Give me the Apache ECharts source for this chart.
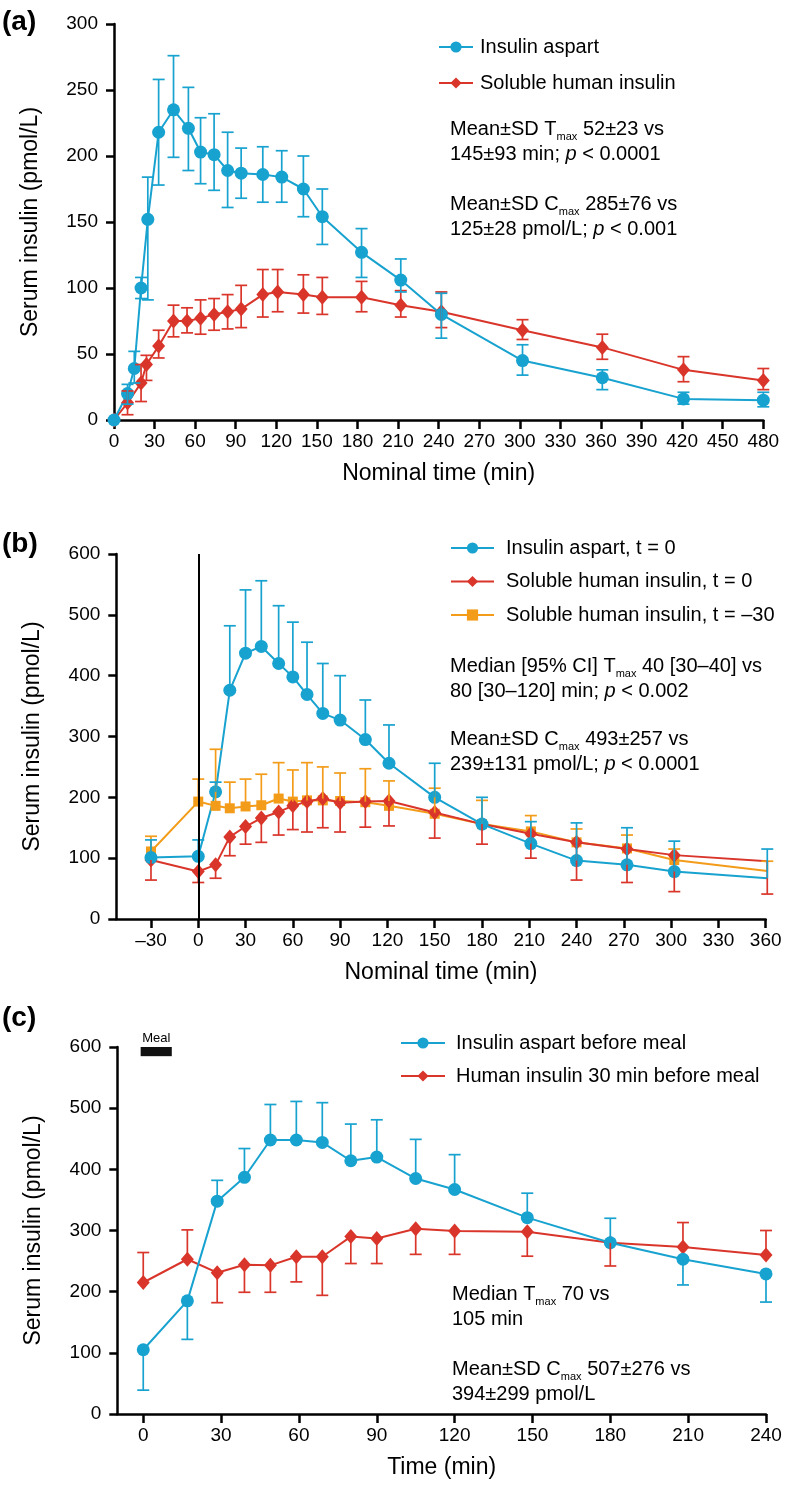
<!DOCTYPE html>
<html>
<head>
<meta charset="utf-8">
<script src="https://cdn.jsdelivr.net/npm/echarts@6/dist/echarts.min.js"></script>
<style>
html,body{margin:0;padding:0;background:#fff;}
#chart{width:786px;height:1487px;}
</style>
</head>
<body>
<div id="chart"></div>
<script>
// ---------- DATA ----------
// Panel (a)
const aTimeAsp = [0,10,15,20,25,33,44,55,64,74,84,94,110,124,140,154,183,212,242,302,361,421,480];
const aAsp     = [0,20,39,100,152,218,235,221,203,201,189,187,186,184,175,154,127,106,80,45,32,16,15];
const aAspLo   = [0,12,28,92,91,178,199,189,179,174,161,168,165,165,154,133,108,97,62,34,23,12,10];
const aAspHi   = [0,27,52,108,184,258,276,252,229,232,218,206,207,204,200,175,145,122,96,57,38,21,21];
const aTimeHum = [0,10,20,24,33,44,54,64,74,84,94,110,121,140,154,183,212,242,302,361,421,480];
const aHum     = [0,13,28,42,56,75,75,77,80,82,84,95,97,95,93,93,87,82,68,55,38,30];
const aHumLo   = [0,4,14,30,47,63,66,65,68,69,70,78,82,81,80,82,78,70,61,46,29,23];
const aHumHi   = [0,22,42,49,68,87,85,91,92,95,102,114,114,110,108,105,98,97,76,65,48,39];
const aXTicks  = [0,30,60,90,120,150,180,210,240,270,300,330,360,390,420,450,480];

// Panel (b)
const bTime    = [-30,0,11,20,30,40,51,60,69,79,90,106,121,150,180,211,240,272,302,361];
const bAsp     = [101,103,209,376,437,448,420,398,369,338,327,295,256,200,156,124,96,89,78,67];
const bAspHi   = [130,130,225,482,541,556,515,488,455,420,400,360,319,256,200,160,158,150,128,115];
const bHum     = [97,78,89,135,152,166,176,186,193,198,191,193,194,175,156,140,126,115,105,95];
const bHumLo   = [64,60,67,104,123,126,138,147,143,150,143,151,153,133,123,100,64,60,45,41];
const bOra     = [111,193,186,182,185,187,198,193,195,195,194,192,186,173,156,144,126,116,97,79];
const bOraHi   = [136,230,279,225,230,238,257,245,257,250,240,247,227,215,195,170,148,138,115,95];
const bXTicks  = [-30,0,30,60,90,120,150,180,210,240,270,300,330,360];

// Panel (c)
const cTime    = [0,17,28.5,39,49,59,69,80,90,105,120,148,180,208,240];
const cAsp     = [105,185,348,387,448,448,444,414,420,385,367,321,280,253,229];
const cAspLo   = [39,122,348,387,448,448,444,414,420,385,367,321,280,211,183];
const cAspHi   = [105,185,382,434,506,511,509,474,481,449,424,361,320,253,229];
const cHum     = [215,253,231,244,243,257,257,290,287,303,299,298,280,273,260];
const cHumLo   = [215,253,182,199,199,216,194,246,246,261,261,258,242,273,260];
const cHumHi   = [264,301,231,244,243,257,257,290,287,303,299,298,280,313,300];
const cXTicks  = [0,30,60,90,120,150,180,210,240];
const mealStart = -1, mealEnd = 11, mealLow = 585, mealHigh = 603;

// ---------- STYLE ----------
const FONT = "'Liberation Sans', Arial, Helvetica, sans-serif";
const BLUE = '#17a2cf', RED = '#d9352a', ORANGE = '#f39c1a';

function zip(t, v){ return t.map((x,i)=>[x, v[i]]); }
function zipErr(t, v, lo, hi){ return t.map((x,i)=>[x, v[i], lo[i], hi[i]]); }
function fmt(v){ return v < 0 ? '\u2013' + Math.abs(v) : String(v); }

function xAxisCfg(gi, min, max, ticks, name){
  return {
    type:'value', gridIndex:gi, min, max, name, nameLocation:'middle', nameGap:42,
    nameTextStyle:{fontSize:23, color:'#000', fontFamily:FONT},
    axisLine:{show:true, onZero:false, lineStyle:{color:'#000', width:2.5}},
    axisTick:{show:true, length:9, customValues:ticks, lineStyle:{color:'#000', width:2.5}},
    axisLabel:{customValues:ticks, formatter:fmt, fontSize:19, color:'#000', margin:12, fontFamily:FONT},
    splitLine:{show:false}
  };
}
function yAxisCfg(gi, max, interval){
  return {
    type:'value', gridIndex:gi, min:0, max, interval,
    name:'Serum insulin (pmol/L)', nameLocation:'middle', nameGap:72, nameRotate:90,
    nameTextStyle:{fontSize:23, color:'#000', fontFamily:FONT},
    axisLine:{show:true, onZero:false, lineStyle:{color:'#000', width:2.5}},
    axisTick:{show:true, length:8, lineStyle:{color:'#000', width:2.5}},
    axisLabel:{fontSize:19, color:'#000', margin:16, fontFamily:FONT},
    splitLine:{show:false}
  };
}
function lineSeries(name, gi, data, color, symbol, size, z){
  return {
    name, type:'line', xAxisIndex:gi, yAxisIndex:gi, data,
    symbol, symbolSize:size, showSymbol:true, z:z||2,
    lineStyle:{color, width:2}, itemStyle:{color, borderWidth:0},
    emphasis:{disabled:true}, animation:false
  };
}
function errSeries(gi, data, color){
  return {
    type:'custom', xAxisIndex:gi, yAxisIndex:gi, data, z:3, silent:true, animation:false,
    encode:{x:0, y:[1,2,3]},
    renderItem:function(params, api){
      const x = api.value(0), y = api.value(1), lo = api.value(2), hi = api.value(3);
      const pLo = api.coord([x, lo]), pHi = api.coord([x, hi]);
      const st = {stroke:color, lineWidth:1.7};
      const ch = [];
      if (lo === hi) return {type:'group', children:[]};
      ch.push({type:'line', shape:{x1:pLo[0], y1:pLo[1], x2:pHi[0], y2:pHi[1]}, style:st});
      const w = 6;
      if (lo < y) ch.push({type:'line', shape:{x1:pLo[0]-w, y1:pLo[1], x2:pLo[0]+w, y2:pLo[1]}, style:st});
      if (hi > y) ch.push({type:'line', shape:{x1:pHi[0]-w, y1:pHi[1], x2:pHi[0]+w, y2:pHi[1]}, style:st});
      return {type:'group', children:ch};
    }
  };
}
function legendCfg(names, left, top, gap, itemWidth, textGap){
  return {
    data:names, orient:'vertical', left, top, itemGap:gap, itemWidth, itemHeight:14,
    padding:0, selectedMode:false,
    textStyle:{fontSize:20, color:'#000', fontFamily:FONT, lineHeight:20, padding:[0,0,0,textGap-5]}
  };
}
const rich = {
  n:{fontSize:20, lineHeight:25, fontFamily:FONT, color:'#000'},
  s:{fontSize:11, lineHeight:9, verticalAlign:'bottom', fontFamily:FONT, color:'#000'},
  i:{fontSize:20, lineHeight:25, fontStyle:'italic', fontFamily:FONT, color:'#000'}
};
function note(x, y, text){
  return {type:'text', left:x, top:y, silent:true,
    style:{text, rich, fill:'#000', font:'20px ' + FONT}};
}
function panelLabel(x, y, t){
  return {type:'text', left:x, top:y, silent:true,
    style:{text:t, fill:'#000', font:'bold 28px ' + FONT}};
}

const chart = echarts.init(document.getElementById('chart'), null, {renderer:'canvas'});
const option = {
  backgroundColor:'#fff',
  animation:false,
  grid:[
    {left:114, top:24, width:649.3, height:396, outerBoundsMode:'none'},
    {left:116.3, top:554, width:649.4, height:365, outerBoundsMode:'none'},
    {left:117.3, top:1047, width:648.7, height:367, outerBoundsMode:'none'}
  ],
  xAxis:[
    xAxisCfg(0, 0, 480, aXTicks, 'Nominal time (min)'),
    xAxisCfg(1, -52, 360, bXTicks, 'Nominal time (min)'),
    xAxisCfg(2, -10, 240, cXTicks, 'Time (min)')
  ],
  yAxis:[ yAxisCfg(0, 300, 50), yAxisCfg(1, 600, 100), yAxisCfg(2, 600, 100) ],
  legend:[
    legendCfg(['Insulin aspart','Soluble human insulin'], 438, 37, 16, 34, 7),
    legendCfg(['Insulin aspart, t = 0','Soluble human insulin, t = 0','Soluble human insulin, t = \u201330'], 450, 538, 13.5, 43, 12),
    legendCfg(['Insulin aspart before meal','Human insulin 30 min before meal'], 400, 1033, 13, 44, 11)
  ],
  series:[
    // (a)
    lineSeries('Soluble human insulin', 0, zip(aTimeHum, aHum), RED, 'diamond', [13,15]),
    lineSeries('Insulin aspart', 0, zip(aTimeAsp, aAsp), BLUE, 'circle', 13),
    errSeries(0, zipErr(aTimeHum, aHum, aHumLo, aHumHi), RED),
    errSeries(0, zipErr(aTimeAsp, aAsp, aAspLo, aAspHi), BLUE),
    // (b)
    lineSeries('Soluble human insulin, t = \u201330', 1, zip(bTime, bOra), ORANGE, 'rect', 10),
    Object.assign(lineSeries('Soluble human insulin, t = 0', 1, zip(bTime, bHum), RED, 'diamond', [13,15]), {
      markLine:{silent:true, symbol:'none', animation:false, label:{show:false},
        lineStyle:{color:'#000', width:2, type:'solid'}, data:[{xAxis:0}]}
    }),
    lineSeries('Insulin aspart, t = 0', 1, zip(bTime, bAsp), BLUE, 'circle', 13),
    errSeries(1, zipErr(bTime, bOra, bOra, bOraHi), ORANGE),
    errSeries(1, zipErr(bTime, bHum, bHumLo, bHum), RED),
    errSeries(1, zipErr(bTime, bAsp, bAsp, bAspHi), BLUE),
    // (c)
    Object.assign(lineSeries('Human insulin 30 min before meal', 2, zip(cTime, cHum), RED, 'diamond', [13,15]), {
      markArea:{silent:true, animation:false, itemStyle:{color:'#111', opacity:1},
        label:{show:true, position:'top', formatter:'Meal', fontSize:13, color:'#000', fontFamily:FONT, distance:2},
        data:[[{xAxis:mealStart, yAxis:mealLow}, {xAxis:mealEnd, yAxis:mealHigh}]]}
    }),
    lineSeries('Insulin aspart before meal', 2, zip(cTime, cAsp), BLUE, 'circle', 13),
    errSeries(2, zipErr(cTime, cHum, cHumLo, cHumHi), RED),
    errSeries(2, zipErr(cTime, cAsp, cAspLo, cAspHi), BLUE)
  ],
  graphic:[
    panelLabel(2, 8, '(a)'),
    panelLabel(2, 530, '(b)'),
    panelLabel(2, 1004, '(c)'),
    note(450, 119.5, '{n|Mean\u00b1SD T}{s|max}{n| 52\u00b123 vs}\n{n|145\u00b193 min; }{i|p}{n| < 0.0001}'),
    note(450, 194.5, '{n|Mean\u00b1SD C}{s|max}{n| 285\u00b176 vs}\n{n|125\u00b128 pmol/L; }{i|p}{n| < 0.001}'),
    note(450, 656.5, '{n|Median [95% CI] T}{s|max}{n| 40 [30\u201340] vs}\n{n|80 [30\u2013120] min; }{i|p}{n| < 0.002}'),
    note(450, 729.5, '{n|Mean\u00b1SD C}{s|max}{n| 493\u00b1257 vs}\n{n|239\u00b1131 pmol/L; }{i|p}{n| < 0.0001}'),
    note(452, 1284.5, '{n|Median T}{s|max}{n| 70 vs}\n{n|105 min}'),
    note(452, 1359.5, '{n|Mean\u00b1SD C}{s|max}{n| 507\u00b1276 vs}\n{n|394\u00b1299 pmol/L}')
  ]
};
chart.setOption(option);
</script>
</body>
</html>
